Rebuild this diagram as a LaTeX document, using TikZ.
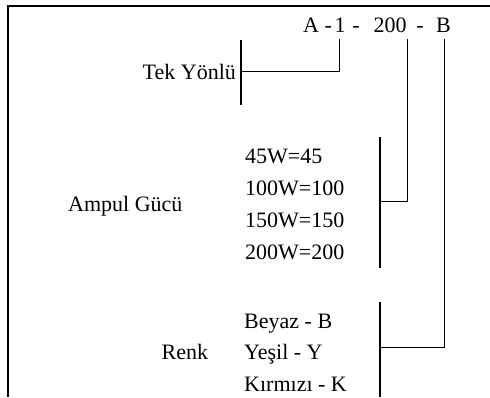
\documentclass[tikz,border=0pt]{standalone}
\usepackage{fontspec}
\setmainfont{Liberation Serif}
\begin{document}
\begin{tikzpicture}[x=1pt,y=-1pt,
  txt/.style={inner sep=0pt,anchor=base west,font=\fontsize{22}{26}\selectfont},
  ctxt/.style={txt,anchor=base},
  thinline/.style={line width=1pt},
  bracket/.style={line width=2pt},
  frameline/.style={line width=2.5pt}]
\useasboundingbox (0,0) rectangle (490,397);
% frame
\draw[frameline] (8,397) -- (8,6) -- (490,6);
% code
\node[txt] (cA) at (303,32) {A -};
\node[ctxt] (c1) at (340,32) {1};
\node[ctxt] (h1) at (356,32) {-};
\node[ctxt] (c200) at (390,32) {200};
\node[ctxt] (h2) at (420,32) {-};
\node[ctxt] (cB) at (443.5,32) {B};
% labels
\node[txt] (tek) at (142.5,79.3) {Tek Yönlü};
\node[txt] (ampul) at (68,211.5) {Ampul Gücü};
\node[txt] (p45) at (245,163.3) {45W=45};
\node[txt] (p100) at (245,195.3) {100W=100};
\node[txt] (p150) at (245,227.3) {150W=150};
\node[txt] (p200) at (245,259.3) {200W=200};
\node[txt] (renk) at (161.5,359.5) {Renk};
\node[txt] (beyaz) at (244,328) {Beyaz - B};
\node[txt] (yesil) at (244,359.5) {Yeşil - Y};
\node[txt] (kirmizi) at (244,391.5) {Kırmızı - K};
% bracket coordinates
\coordinate (k1) at (339.5,39);
\coordinate (k200) at (407,39);
\coordinate (kB) at (444,39);
\coordinate (tekTop) at (241,40);
\coordinate (tekBot) at (241,105);
\coordinate (tekMid) at (241,71.5);
\coordinate (ampTop) at (380,137);
\coordinate (ampBot) at (380,268);
\coordinate (ampMid) at (380,201.5);
\coordinate (renkTop) at (380,301.5);
\coordinate (renkBot) at (380,397);
\coordinate (renkMid) at (380,347);
% brackets
\draw[bracket] (tekTop) -- (tekBot);
\draw[bracket] (ampTop) -- (ampBot);
\draw[bracket] (renkTop) -- (renkBot);
% connectors
\draw[thinline] (k1) |- (tekMid);
\draw[thinline] (k200) |- (ampMid);
\draw[thinline] (kB) |- (renkMid);
\end{tikzpicture}
\end{document}
